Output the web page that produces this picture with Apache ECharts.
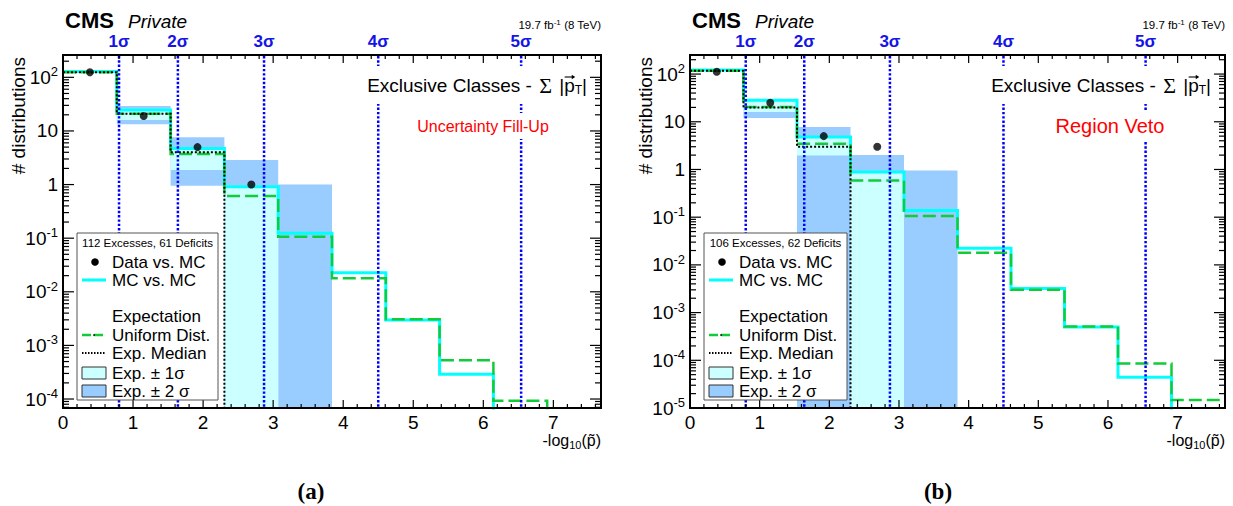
<!DOCTYPE html>
<html>
<head>
<meta charset="utf-8">
<script src="https://cdn.jsdelivr.net/npm/echarts@6/dist/echarts.min.js"></script>
<style>
  html, body { margin: 0; padding: 0; background: #fff; }
  #chart { width: 1233px; height: 506px; }
</style>
</head>
<body>
<div id="chart"></div>
<script>
// ---------------------------------------------------------------------------
// Binning of -log10(p~), shared by both panels
const binEdges = [0, 0.768, 1.536, 2.304, 3.072, 3.84, 4.608, 5.376, 6.144, 6.912, 7.68];
const obsBinCenters = [0.384, 1.152, 1.92, 2.688];
const xTickLabels = ['0', '1', '2', '3', '4', '5', '6', '7'];

// one-sided significance thresholds on the -log10(p~) axis
const sigmaPos = [0.80, 1.64, 2.87, 4.50, 6.54];
const sigmaLabels = ['1σ', '2σ', '3σ', '4σ', '5σ'];

// an empty bin: lies below the axis floor
const EMPTY = 1e-7;

// ---- panel (a): uncertainty fill-up
const dataA = [124, 19, 5, 1];
const mcA = [129, 24.6, 4.7, 0.91, 0.123, 0.0226, 0.00297, 0.00029, 0.00004, EMPTY];
const uniformA = [125, 21, 3.7, 0.61, 0.106, 0.0178, 0.00306, 0.00053, 0.000093, 0.000015];
const medianA = [125, 21, 4, EMPTY, EMPTY, EMPTY, EMPTY, EMPTY, EMPTY, EMPTY];
const sigma1LoA = [null, 16, 1.86, EMPTY, null, null, null, null, null, null];
const sigma1HiA = [null, 26, 5.0, 0.95, null, null, null, null, null, null];
const sigma2LoA = [null, 13.3, 0.95, EMPTY, EMPTY, null, null, null, null, null];
const sigma2HiA = [null, 29.2, 7.6, 2.87, 1.0, null, null, null, null, null];

// ---- panel (b): region veto
const dataB = [112, 25, 5, 3];
const mcB = [121, 28.4, 4.8, 0.88, 0.138, 0.0222, 0.0032, 0.0005, 0.000044, EMPTY];
const uniformB = [117, 20.3, 3.47, 0.586, 0.106, 0.018, 0.003, 0.00051, 0.000086, 0.0000147];
const medianB = [117, 20, 3, EMPTY, EMPTY, EMPTY, EMPTY, EMPTY, EMPTY, EMPTY];
const sigma1LoB = [null, 16, 1.97, EMPTY, null, null, null, null, null, null];
const sigma1HiB = [null, 27, 5.0, 0.9, null, null, null, null, null, null];
const sigma2LoB = [null, 12, EMPTY, EMPTY, EMPTY, null, null, null, null, null];
const sigma2HiB = [null, 28, 7.8, 2.0, 0.95, null, null, null, null, null];

const legendHeaderA = '112 Excesses, 61 Deficits';
const legendHeaderB = '106 Excesses, 62 Deficits';
const methodA = 'Uncertainty Fill-Up';
const methodB = 'Region Veto';

// ---------------------------------------------------------------------------
const FONT = '"Liberation Sans", Arial, Helvetica, sans-serif';
const SERIF = '"Liberation Serif", "DejaVu Serif", serif';
const X_MAX = 7.68;

const C_MC = '#00ffff';
const C_UNI = '#11cc3a';
const C_1S = '#ccffff';
const C_2S = '#99ccff';
const C_SIG = '#0000ff';

const panels = [
  {
    grid: { left: 63, top: 55, width: 538, height: 353 },
    yMin: 6.8e-5, yMax: 261,
    data: dataA, mc: mcA, uni: uniformA, med: medianA,
    s1: [sigma1LoA, sigma1HiA], s2: [sigma2LoA, sigma2HiA],
    header: legendHeaderA, method: methodA, methodSize: 16,
    legendW: 141, tag: '(a)', tagX: 311
  },
  {
    grid: { left: 690, top: 55, width: 535, height: 353 },
    yMin: 1e-5, yMax: 251,
    data: dataB, mc: mcB, uni: uniformB, med: medianB,
    s1: [sigma1LoB, sigma1HiB], s2: [sigma2LoB, sigma2HiB],
    header: legendHeaderB, method: methodB, methodSize: 20,
    legendW: 143, tag: '(b)', tagX: 938
  }
];

const measureCtx = document.createElement('canvas').getContext('2d');
function textWidth(str, size, family) {
  measureCtx.font = size + 'px ' + family;
  return measureCtx.measureText(str).width;
}

function histPoints(values) {
  const pts = [];
  for (let k = 0; k < values.length; k++) pts.push([binEdges[k], values[k]]);
  pts.push([binEdges[values.length], values[values.length - 1]]);
  return pts;
}

function bandItems(lo, hi) {
  const items = [];
  for (let k = 0; k < lo.length; k++) {
    if (lo[k] != null && hi[k] != null) items.push([binEdges[k], binEdges[k + 1], lo[k], hi[k]]);
  }
  return items;
}

function bandSeries(i, band, color) {
  return {
    type: 'custom', xAxisIndex: i, yAxisIndex: i, z: 1, silent: true,
    data: bandItems(band[0], band[1]),
    encode: { x: [0, 1], y: [2, 3] },
    renderItem(params, api) {
      const a = api.coord([api.value(0), api.value(3)]);
      const b = api.coord([api.value(1), api.value(2)]);
      const cs = params.coordSys;
      const shape = echarts.graphic.clipRectByRect(
        { x: a[0], y: a[1], width: b[0] - a[0], height: b[1] - a[1] },
        { x: cs.x, y: cs.y, width: cs.width, height: cs.height });
      if (!shape) return null;
      return { type: 'rect', shape, style: { fill: color } };
    }
  };
}

function histSeries(i, values, color, width, dash, z) {
  return {
    type: 'line', xAxisIndex: i, yAxisIndex: i, z, silent: true,
    data: histPoints(values), step: 'end', symbol: 'none', clip: true,
    lineStyle: { color, width, type: dash, cap: 'butt', join: 'miter' }
  };
}

function sigmaSeries(i) {
  return {
    type: 'custom', xAxisIndex: i, yAxisIndex: i, z: 6, silent: true,
    data: sigmaPos.map(v => [v, 1]),
    encode: { x: 0, y: 1 },
    renderItem(params, api) {
      const cs = params.coordSys;
      const x = api.coord([api.value(0), 1])[0];
      return {
        type: 'group',
        children: [
          { type: 'line', shape: { x1: x, y1: cs.y + 1, x2: x, y2: cs.y + cs.height - 1 },
            style: { stroke: C_SIG, lineWidth: 2.5, lineDash: [2.4, 1.9] } },
          { type: 'text', style: { text: sigmaLabels[params.dataIndex], x: x, y: cs.y - 13.5,
            align: 'center', verticalAlign: 'middle', fill: '#1414e6',
            fontSize: 17, fontWeight: 'bold', fontFamily: FONT } }
        ]
      };
    }
  };
}

// frame with ROOT-style inward ticks on all four sides
function frameSeries(i, p) {
  return {
    type: 'custom', xAxisIndex: i, yAxisIndex: i, z: 7, silent: true,
    data: [[0, 1]],
    encode: { x: 0, y: 1 },
    renderItem(params, api) {
      const cs = params.coordSys;
      const L = cs.x, R = cs.x + cs.width, T = cs.y, B = cs.y + cs.height;
      const kids = [];
      const seg = (x1, y1, x2, y2) => kids.push({ type: 'line',
        shape: { x1, y1, x2, y2 }, style: { stroke: '#000', lineWidth: 1.2 } });
      const k0 = Math.floor(Math.log10(p.yMin)), k1 = Math.ceil(Math.log10(p.yMax));
      for (let k = k0; k <= k1; k++) {
        for (let m = 1; m <= 9; m++) {
          const v = m * Math.pow(10, k);
          if (v < p.yMin || v > p.yMax) continue;
          const len = m === 1 ? 11 : 6;
          const y = api.coord([0, v])[1];
          seg(L, y, L + len, y);
          seg(R - len, y, R, y);
        }
      }
      for (let k = 0; k / 5 <= X_MAX; k++) {
        const len = k % 5 === 0 ? 8 : 4;
        const x = api.coord([k / 5, 1])[0];
        seg(x, B, x, B - len);
        seg(x, T, x, T + len);
      }
      kids.push({ type: 'rect', shape: { x: L, y: T, width: cs.width, height: cs.height },
        style: { fill: 'none', stroke: '#000', lineWidth: 2 } });
      return { type: 'group', children: kids };
    }
  };
}

function yLabel(v) {
  const e = Math.round(Math.log10(v));
  if (e === 0) return '1';
  if (e === 1) return '10';
  return '10{sup|' + e + '}';
}

function legendGraphics(p) {
  const x0 = p.grid.left + 14, y0 = 233, w = p.legendW;
  const txt = (text, dy) => ({ type: 'text', x: x0 + 35, y: y0 + dy, z: 100,
    style: { text, fill: '#000', fontSize: 17, fontFamily: FONT, align: 'left', verticalAlign: 'middle' } });
  return [
    { type: 'rect', z: 99, shape: { x: x0, y: y0, width: w, height: 167 },
      style: { fill: '#fff', stroke: '#555', lineWidth: 1 } },
    { type: 'text', x: x0 + w / 2, y: y0 + 10, z: 100,
      style: { text: p.header, fill: '#000', fontSize: 11.5, fontFamily: FONT, align: 'center', verticalAlign: 'middle' } },
    { type: 'circle', z: 100, shape: { cx: x0 + 18, cy: y0 + 29, r: 3.8 }, style: { fill: '#000' } },
    txt('Data vs. MC', 29),
    { type: 'line', z: 100, shape: { x1: x0 + 5, y1: y0 + 47, x2: x0 + 29, y2: y0 + 47 },
      style: { stroke: C_MC, lineWidth: 3 } },
    txt('MC vs. MC', 47),
    txt('Expectation', 83),
    { type: 'line', z: 100, shape: { x1: x0 + 5, y1: y0 + 102, x2: x0 + 29, y2: y0 + 102 },
      style: { stroke: C_UNI, lineWidth: 2.5, lineDash: [9, 3] } },
    { type: 'circle', z: 101, shape: { cx: x0 + 17, cy: y0 + 102, r: 0.8 }, style: { fill: '#000' } },
    txt('Uniform Dist.', 102),
    { type: 'line', z: 100, shape: { x1: x0 + 5, y1: y0 + 120, x2: x0 + 29, y2: y0 + 120 },
      style: { stroke: '#000', lineWidth: 2, lineDash: [1.5, 1.5] } },
    txt('Exp. Median', 120),
    { type: 'rect', z: 100, shape: { x: x0 + 5, y: y0 + 134, width: 24, height: 12 },
      style: { fill: C_1S, stroke: '#333', lineWidth: 1 } },
    txt('Exp. ± 1σ', 140),
    { type: 'rect', z: 100, shape: { x: x0 + 5, y: y0 + 152, width: 24, height: 12 },
      style: { fill: C_2S, stroke: '#333', lineWidth: 1 } },
    txt('Exp. ± 2 σ', 158)
  ];
}

function panelTexts(p) {
  const L = p.grid.left, R = p.grid.left + p.grid.width;
  // vector arrow above the "p" of |p_T|
  const titleRight = R - 14;
  const pRight = titleRight - textWidth('|', 19, FONT) - textWidth('T', 12, FONT);
  const pLeft = pRight - textWidth('p', 19, FONT);
  const ay = 77;
  return [
    { type: 'text', x: L + 2, y: 20.5, z: 100,
      style: { text: 'CMS', fill: '#000', fontSize: 22, fontWeight: 'bold', fontFamily: FONT, verticalAlign: 'middle' } },
    { type: 'text', x: L + 65, y: 21.5, z: 100,
      style: { text: 'Private', fill: '#000', fontSize: 19, fontStyle: 'italic', fontFamily: FONT, verticalAlign: 'middle' } },
    { type: 'text', x: R, y: 25, z: 100,
      style: { text: '19.7 fb{sup|-1} (8 TeV)', fill: '#000', fontSize: 11.5, fontFamily: FONT,
        align: 'right', verticalAlign: 'middle', lineHeight: 14,
        rich: { sup: { fontSize: 8, lineHeight: 8, verticalAlign: 'top', fontFamily: FONT } } } },
    { type: 'text', x: R - 12, y: 85, z: 100,
      style: { text: 'Exclusive Classes - {sig|Σ} |{p|p}{sub|T}|', fill: '#000', fontSize: 19, fontFamily: FONT,
        align: 'right', verticalAlign: 'middle', lineHeight: 22,
        backgroundColor: '#fff', padding: [8, 2, 8, 4],
        rich: {
          sig: { fontFamily: SERIF, fontSize: 22, lineHeight: 22, padding: [0, 2, 0, 2] },
          p: { fontFamily: FONT, fontSize: 19, lineHeight: 22 },
          sub: { fontFamily: FONT, fontSize: 12, lineHeight: 12, verticalAlign: 'bottom' }
        } } },
    { type: 'line', z: 101, shape: { x1: pLeft + 0.5, y1: ay, x2: pRight - 1, y2: ay },
      style: { stroke: '#000', lineWidth: 1.1 } },
    { type: 'polygon', z: 101, shape: { points: [[pRight + 0.5, ay], [pRight - 3, ay - 2.2], [pRight - 3, ay + 2.2]] },
      style: { fill: '#000' } },
    { type: 'text', x: L + 420, y: 126, z: 100,
      style: { text: p.method, fill: '#ff0000', fontSize: p.methodSize, fontFamily: FONT,
        align: 'center', verticalAlign: 'middle', backgroundColor: '#fff', padding: [5, 3, 5, 3] } },
    { type: 'text', x: L - 45, y: 57, z: 100, rotation: Math.PI / 2,
      style: { text: '# distributions', fill: '#000', fontSize: 19, fontFamily: FONT,
        align: 'right', verticalAlign: 'middle' } },
    { type: 'text', x: R, y: 431, z: 100,
      style: { text: '-log{sub|10}(p̃)', fill: '#000', fontSize: 16, fontFamily: FONT,
        align: 'right', verticalAlign: 'top', lineHeight: 19,
        rich: { sub: { fontSize: 11, lineHeight: 9, verticalAlign: 'bottom', fontFamily: FONT } } } },
    { type: 'text', x: p.tagX, y: 491, z: 100,
      style: { text: p.tag, fill: '#000', fontSize: 23, fontWeight: 'bold', fontFamily: SERIF,
        align: 'center', verticalAlign: 'middle' } }
  ];
}

const series = [];
panels.forEach((p, i) => {
  series.push(bandSeries(i, p.s2, C_2S));
  series.push(bandSeries(i, p.s1, C_1S));
  series.push(histSeries(i, p.mc, C_MC, 3, 'solid', 2));
  series.push(histSeries(i, p.uni, C_UNI, 2.5, [13, 5], 3));
  series.push(histSeries(i, p.med, '#000', 2, [2, 2], 4));
  series.push({
    type: 'scatter', xAxisIndex: i, yAxisIndex: i, z: 5, silent: true,
    data: obsBinCenters.map((c, k) => [c, p.data[k]]),
    symbol: 'circle', symbolSize: 8, itemStyle: { color: '#000' }
  });
  series.push(sigmaSeries(i));
  series.push(frameSeries(i, p));
});

let graphics = [];
panels.forEach(p => { graphics = graphics.concat(panelTexts(p), legendGraphics(p)); });

const chart = echarts.init(document.getElementById('chart'), null, { renderer: 'svg' });
chart.setOption({
  animation: false,
  backgroundColor: '#fff',
  grid: panels.map(p => Object.assign({ show: false, containLabel: false }, p.grid)),
  xAxis: panels.map((p, i) => ({
    type: 'value', gridIndex: i, min: 0, max: X_MAX, interval: 1,
    axisLine: { show: false }, axisTick: { show: false }, splitLine: { show: false },
    axisLabel: { fontSize: 19, color: '#000', fontFamily: FONT, margin: 5, lineHeight: 18,
      showMinLabel: true, showMaxLabel: false,
      formatter: v => (xTickLabels[Math.round(v)] !== undefined && Math.abs(v - Math.round(v)) < 1e-6) ? xTickLabels[Math.round(v)] : '' }
  })),
  yAxis: panels.map((p, i) => ({
    type: 'log', logBase: 10, gridIndex: i, min: p.yMin, max: p.yMax,
    axisLine: { show: false }, axisTick: { show: false }, splitLine: { show: false },
    axisLabel: { fontSize: 19, color: '#000', fontFamily: FONT, margin: 5, lineHeight: 24,
      showMinLabel: i === 1, showMaxLabel: false,
      formatter: yLabel,
      rich: { sup: { fontSize: 13, lineHeight: 13, verticalAlign: 'top', fontFamily: FONT, color: '#000' } } }
  })),
  series,
  graphic: graphics
});
</script>
</body>
</html>
